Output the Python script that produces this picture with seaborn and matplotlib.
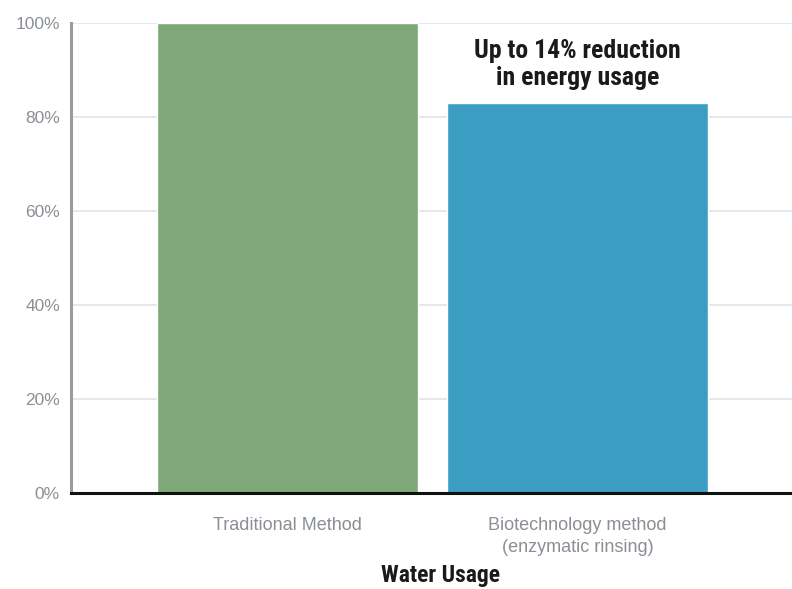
import matplotlib
matplotlib.use("Agg")
import matplotlib.pyplot as plt
import seaborn as sns
import pandas as pd
from matplotlib import font_manager

# Data
methods = ["Traditional Method", "Biotechnology method\n(enzymatic rinsing)"]
water_usage = [100, 83]
bar_colors = ["#7ea877", "#3b9dc1"]
y_ticks = [0, 20, 40, 60, 80, 100]
y_tick_labels = ["0%", "20%", "40%", "60%", "80%", "100%"]
note = "Up to 14% reduction\nin energy usage"
x_title = "Water Usage"

sns.set_theme(style="white")
plt.rcParams["font.family"] = ["Liberation Sans", "DejaVu Sans"]

available = {f.name for f in font_manager.fontManager.ttflist}
narrow = [n for n in ["Liberation Sans Narrow", "Roboto Condensed", "Open Sans Condensed"]
          if n in available]
title_family = narrow + ["Liberation Sans", "DejaVu Sans"]

df = pd.DataFrame({"method": methods, "usage": water_usage})

fig = plt.figure(figsize=(7.92, 5.89), dpi=100)
ax = fig.add_axes([71 / 792, 96 / 589, 1 - 71 / 792, 470 / 589])

sns.barplot(data=df, x="method", y="usage", hue="method", palette=bar_colors,
            width=0.9, legend=False, ax=ax, zorder=3, saturation=1)

ax.set_ylim(0, 100)
ax.set_xlim(-0.747, 1.74)
ax.set_yticks(y_ticks)
ax.set_yticklabels(y_tick_labels)
ax.yaxis.grid(True, color="#dde6ee", linewidth=1.2, zorder=0)
ax.set_axisbelow(True)

ax.tick_params(axis="y", labelsize=12.5, labelcolor="#8a8f96", length=0, pad=8)
ax.tick_params(axis="x", labelsize=13, labelcolor="#8a8f96", length=0, pad=17)
for lbl in ax.get_xticklabels():
    lbl.set_linespacing(1.4)

ax.set_ylabel("")
ax.set_xlabel(x_title, fontsize=17, fontweight="bold", color="#1a1a1a",
              family=title_family)
ax.xaxis.set_label_coords(0.513, -0.151)

for side in ["top", "right"]:
    ax.spines[side].set_visible(False)
ax.spines["left"].set_color("#9a9a9a")
ax.spines["left"].set_linewidth(2.2)
ax.spines["bottom"].set_color("#111111")
ax.spines["bottom"].set_linewidth(2.2)
ax.spines["bottom"].set_zorder(4)

ax.text(1, 91.2, note, ha="center", va="center", fontsize=18.5, fontweight="bold",
        color="#1a1a1a", linespacing=1.15, family=title_family)

fig.savefig("out.png", dpi=100)
